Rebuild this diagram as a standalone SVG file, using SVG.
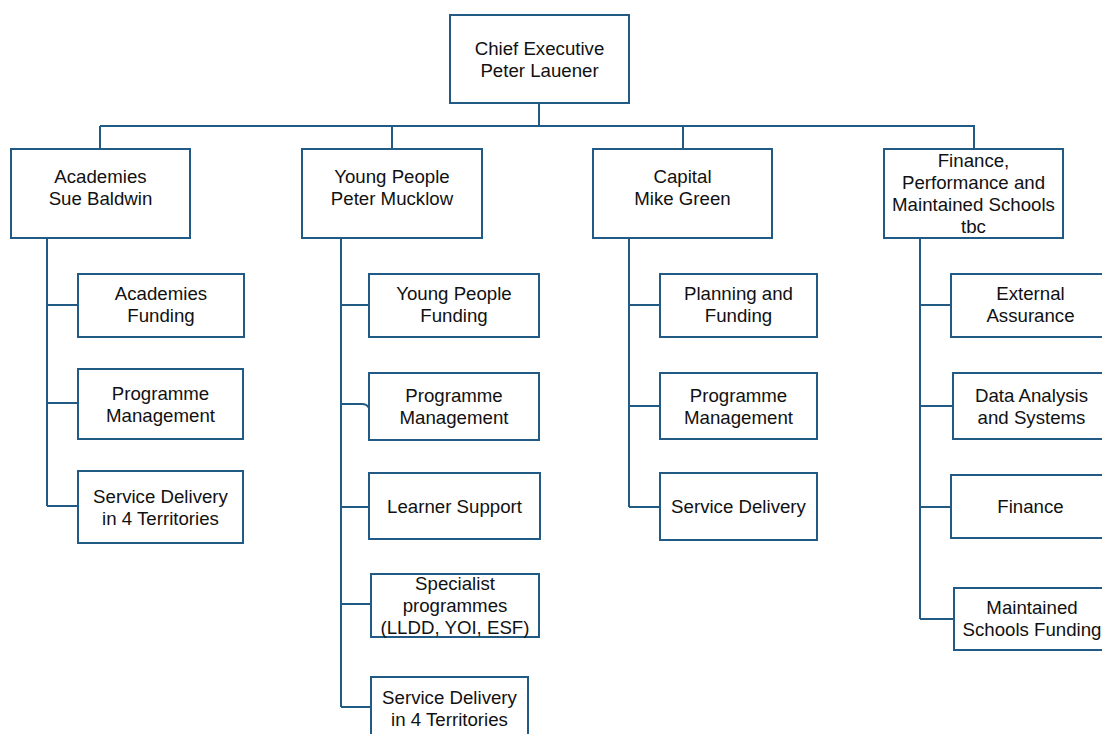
<svg xmlns="http://www.w3.org/2000/svg" width="1102" height="734" viewBox="0 0 1102 734">
<style>
.box{fill:#ffffff;stroke:#215a84;stroke-width:2}
.ln{fill:none;stroke:#215a84;stroke-width:2}
text{font-family:"Liberation Sans",Arial,sans-serif;font-size:18.67px;fill:#111111;text-anchor:middle}
</style>
<rect x="0" y="0" width="1102" height="734" fill="#ffffff"/>
<g id="connectors">
<path class="ln" d="M539,103 V126 M100,126 H975 M100,126 V149 M392,126 V149 M683,126 V149 M974,126 V149"/>
<path class="ln" d="M47,238 V506 M47,305 H78 M47,403 H78 M47,506 H78"/>
<path class="ln" d="M341,238 V707 M341,305 H369 M341,404 H362 Q367,404 369,408 M341,507 H369 M341,604 H371 M341,707 H371"/>
<path class="ln" d="M629,238 V507 M629,305 H660 M629,406 H660 M629,507 H660"/>
<path class="ln" d="M920,238 V619 M920,305 H951 M920,406 H953 M920,507 H951 M920,619 H954"/>
</g>
<g id="chief"><rect class="box" x="450" y="15" width="179" height="88"/><text x="539.5" y="54.7">Chief Executive</text><text x="539.5" y="76.7">Peter Lauener</text></g>
<g id="academies"><rect class="box" x="11" y="149" width="179" height="89"/><text x="100.5" y="182.5">Academies</text><text x="100.5" y="204.5">Sue Baldwin</text></g>
<g id="young-people"><rect class="box" x="302" y="149" width="180" height="89"/><text x="392" y="182.5">Young People</text><text x="392" y="204.5">Peter Mucklow</text></g>
<g id="capital"><rect class="box" x="593" y="149" width="179" height="89"/><text x="682.5" y="182.5">Capital</text><text x="682.5" y="204.5">Mike Green</text></g>
<g id="finance-performance"><rect class="box" x="884" y="149" width="179" height="89"/><text x="973.5" y="167.2">Finance,</text><text x="973.5" y="189.2">Performance and</text><text x="973.5" y="211.2">Maintained Schools</text><text x="973.5" y="233.2">tbc</text></g>

<g id="academies-funding"><rect class="box" x="78" y="274" width="166" height="63"/><text x="161" y="300.2">Academies</text><text x="161" y="322.2">Funding</text></g>
<g id="academies-programme"><rect class="box" x="78" y="369" width="165" height="70"/><text x="160.5" y="399.7">Programme</text><text x="160.5" y="421.7">Management</text></g>
<g id="academies-service"><rect class="box" x="78" y="471" width="165" height="72"/><text x="160.5" y="502.7">Service Delivery</text><text x="160.5" y="524.7">in 4 Territories</text></g>

<g id="yp-funding"><rect class="box" x="369" y="274" width="170" height="63"/><text x="454" y="300.2">Young People</text><text x="454" y="322.2">Funding</text></g>
<g id="yp-programme"><rect class="box" x="369" y="373" width="170" height="67"/><text x="454" y="402.2">Programme</text><text x="454" y="424.2">Management</text></g>
<g id="yp-learner"><rect class="box" x="369" y="473" width="171" height="66"/><text x="454.5" y="512.7">Learner Support</text></g>
<g id="yp-specialist"><rect class="box" x="371" y="574" width="168" height="63"/><text x="455" y="590.2">Specialist</text><text x="455" y="612.2">programmes</text><text x="455" y="634.2">(LLDD, YOI, ESF)</text></g>
<g id="yp-service"><rect class="box" x="371" y="677" width="157" height="63"/><text x="449.5" y="704.2">Service Delivery</text><text x="449.5" y="726.2">in 4 Territories</text></g>

<g id="capital-planning"><rect class="box" x="660" y="274" width="157" height="63"/><text x="738.5" y="300.2">Planning and</text><text x="738.5" y="322.2">Funding</text></g>
<g id="capital-programme"><rect class="box" x="660" y="373" width="157" height="66"/><text x="738.5" y="401.7">Programme</text><text x="738.5" y="423.7">Management</text></g>
<g id="capital-service"><rect class="box" x="660" y="473" width="157" height="67"/><text x="738.5" y="513.2">Service Delivery</text></g>

<g id="fin-external"><rect class="box" x="951" y="274" width="159" height="63"/><text x="1030.5" y="300.2">External</text><text x="1030.5" y="322.2">Assurance</text></g>
<g id="fin-data"><rect class="box" x="953" y="373" width="157" height="66"/><text x="1031.5" y="401.7">Data Analysis</text><text x="1031.5" y="423.7">and Systems</text></g>
<g id="fin-finance"><rect class="box" x="951" y="475" width="159" height="63"/><text x="1030.5" y="513.2">Finance</text></g>
<g id="fin-maintained"><rect class="box" x="954" y="588" width="156" height="62"/><text x="1032" y="613.7">Maintained</text><text x="1032" y="635.7">Schools Funding</text></g>
</svg>
